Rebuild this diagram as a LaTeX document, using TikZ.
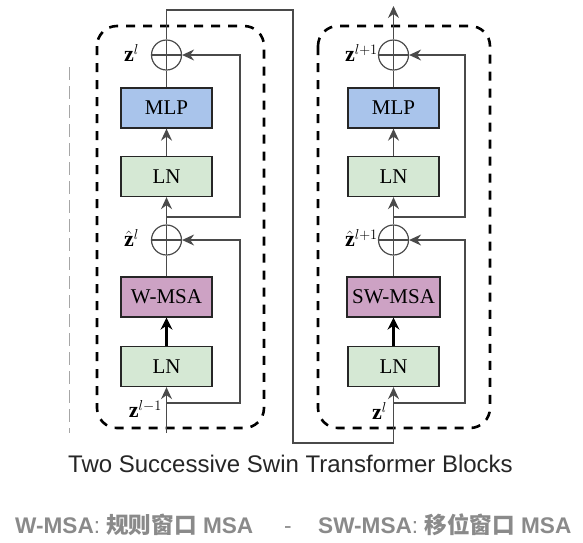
\documentclass[tikz,border=0pt]{standalone}
\usepackage{fontspec}
\setmainfont{Liberation Serif}
\newfontfamily\sansf{Liberation Sans}
\newfontfamily\cjk{Noto Sans CJK SC}
\usetikzlibrary{arrows.meta}
\definecolor{mlpblue}{HTML}{A9C4EB}
\definecolor{lngreen}{HTML}{D5E8D4}
\definecolor{msapink}{HTML}{CDA2C4}
\definecolor{linegray}{HTML}{4A4A4A}
\definecolor{capgray}{HTML}{8A8A8A}
\tikzset{
  blk/.style={draw=black!85, line width=1.3pt, minimum width=91pt, minimum height=40pt, inner sep=0pt,
    font=\fontsize{21}{24}\selectfont},
  addc/.style={draw=linegray, circle, minimum size=30pt, inner sep=0pt, line width=1.2pt,
    path picture={\draw[linegray, line width=1.2pt]
      (path picture bounding box.north) -- (path picture bounding box.south)
      (path picture bounding box.west) -- (path picture bounding box.east);}},
  conn/.style={draw=linegray, line width=1.5pt},
  arr/.style={conn, -{Stealth[length=12pt,width=11pt,inset=4pt]}},
  thickarr/.style={draw=black, line width=3pt, -{Stealth[length=12pt,width=12pt,inset=4pt]}},
  dbox/.style={draw=black, line width=2.6pt, dash pattern=on 9pt off 8pt, rounded corners=20pt},
  zlab/.style={anchor=east, inner sep=0pt, font=\fontsize{22}{25}\selectfont},
}
\begin{document}
\begin{tikzpicture}[x=1pt,y=-1pt]
\useasboundingbox (0,0) rectangle (583,542);
\fill[white] (0,0) rectangle (583,542);

% faint dashed guide
\draw[black!35, line width=0.9pt, dash pattern=on 13pt off 6pt] (69,67) -- (69,433);

% dashed block frames
\draw[dbox] (97,26) rectangle (264,428);
\draw[dbox] (318,26) rectangle (490,428);

% ---------- left block ----------
\node[blk, fill=lngreen] (lnA) at (166.5,366.5) {LN};
\node[blk, fill=msapink] (wmsa) at (166.5,297) {W-MSA};
\node[addc] (pA1) at (166.5,240) {};
\node[blk, fill=lngreen] (lnA2) at (166.5,176.5) {LN};
\node[blk, fill=mlpblue] (mlpA) at (166.5,108) {MLP};
\node[addc] (pA2) at (166.5,55) {};

\node[zlab] (zA0) at (162,409) {$\mathbf{z}^{l-1}$};
\node[zlab] (zA1) at (139,238) {$\hat{\mathbf{z}}^{l}$};
\node[zlab] (zA2) at (139,53) {$\mathbf{z}^{l}$};

\coordinate (inA) at (166.5,433);
\coordinate (brA1) at (166.5,403);
\coordinate (rA1) at (240,403);
\coordinate (rA1t) at (240,240);
\coordinate (brA2) at (166.5,217);
\coordinate (rA2) at (240,217);
\coordinate (rA2t) at (240,55);

\draw[arr] (inA) -- (lnA.south);
\draw[thickarr] (lnA.north) -- (wmsa.south);
\draw[conn] (wmsa.north) -- (pA1.south);
\draw[arr] (pA1.north) -- (lnA2.south);
\draw[arr] (lnA2.north) -- (mlpA.south);
\draw[conn] (mlpA.north) -- (pA2.south);
\draw[arr] (brA1) -- (rA1) -- (rA1t) -- (pA1.east);
\draw[arr] (brA2) -- (rA2) -- (rA2t) -- (pA2.east);

% ---------- right block ----------
\node[blk, fill=lngreen] (lnB) at (393.5,366.5) {LN};
\node[blk, fill=msapink, minimum width=93pt] (swmsa) at (393.5,297) {SW-MSA};
\node[addc] (pB1) at (393.5,240) {};
\node[blk, fill=lngreen] (lnB2) at (393.5,176.5) {LN};
\node[blk, fill=mlpblue] (mlpB) at (393.5,108) {MLP};
\node[addc] (pB2) at (393.5,55) {};

\node[zlab] (zB0) at (387,411) {$\mathbf{z}^{l}$};
\node[zlab] (zB1) at (378,238) {$\hat{\mathbf{z}}^{l+1}$};
\node[zlab] (zB2) at (378,53) {$\mathbf{z}^{l+1}$};

\coordinate (brB1) at (393.5,403);
\coordinate (rB1) at (465,403);
\coordinate (rB1t) at (465,240);
\coordinate (brB2) at (393.5,217);
\coordinate (rB2) at (465,217);
\coordinate (rB2t) at (465,55);
\coordinate (outB) at (393.5,6);

% link between blocks
\coordinate (t1) at (166.5,10);
\coordinate (t2) at (293,10);
\coordinate (t3) at (293,443);
\coordinate (t4) at (393.5,443);
\draw[arr] (pA2.north) -- (t1) -- (t2) -- (t3) -- (t4) -- (lnB.south);

\draw[thickarr] (lnB.north) -- (swmsa.south);
\draw[conn] (swmsa.north) -- (pB1.south);
\draw[arr] (pB1.north) -- (lnB2.south);
\draw[arr] (lnB2.north) -- (mlpB.south);
\draw[conn] (mlpB.north) -- (pB2.south);
\draw[arr] (pB2.north) -- (outB);
\draw[arr] (brB1) -- (rB1) -- (rB1t) -- (pB1.east);
\draw[arr] (brB2) -- (rB2) -- (rB2t) -- (pB2.east);

% ---------- captions ----------
\node[anchor=base, inner sep=0pt, text=black!85, font=\sansf\fontsize{24}{28}\selectfont] (title) at (290.5,472)
  {Two Successive Swin Transformer Blocks};
\node[anchor=base west, inner sep=0pt, text=capgray, font=\sansf\fontsize{22.6}{26}\selectfont] (capL) at (15,533)
  {\bfseries W-MSA\mdseries: {\cjk\bfseries 规则窗口} \bfseries MSA};
\node[anchor=base, inner sep=0pt, text=capgray, font=\sansf\fontsize{22.6}{26}\selectfont] (capM) at (288,533) {-};
\node[anchor=base west, inner sep=0pt, text=capgray, font=\sansf\fontsize{22.6}{26}\selectfont] (capR) at (318,533)
  {\bfseries SW-MSA\mdseries: {\cjk\bfseries 移位窗口} \bfseries MSA};
\end{tikzpicture}
\end{document}
